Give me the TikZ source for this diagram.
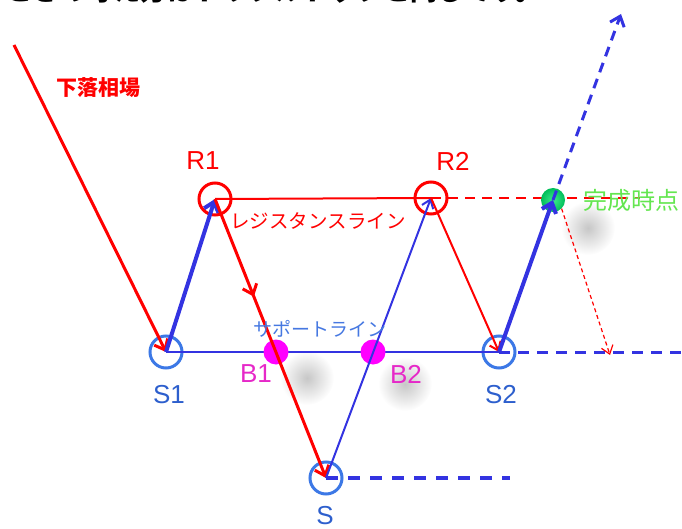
\documentclass[tikz,border=0pt]{standalone}
\usepackage{fontspec}
\setmainfont{Liberation Sans}
\newfontfamily\jp{Noto Sans CJK JP}
\usetikzlibrary{arrows.meta,decorations.markings}
\definecolor{lblue}{RGB}{51,51,225}
\definecolor{cblue}{RGB}{60,120,230}
\definecolor{tblue}{RGB}{45,95,205}
\definecolor{sblue}{RGB}{70,120,225}
\definecolor{pred}{RGB}{255,0,0}
\definecolor{pmag}{RGB}{255,0,255}
\definecolor{tmag}{RGB}{230,40,200}
\definecolor{tgreen}{RGB}{100,230,80}
\definecolor{dgreen}{RGB}{0,190,90}
\definecolor{lgreen}{RGB}{60,235,140}
\tikzset{
  barb/.style={-{Straight Barb[length=9pt,width=15pt]}},
  sbarb/.style={-{Straight Barb[length=8pt,width=12pt]}},
  rcirc/.style={circle,draw=pred,line width=3pt,minimum size=32pt,inner sep=0pt},
  bcirc/.style={circle,draw=cblue,line width=3pt,minimum size=32pt,inner sep=0pt},
  bdot/.style={circle,fill=pmag,minimum size=25pt,inner sep=0pt},
  lab/.style={inner sep=0pt,font=\fontsize{26}{28}\selectfont},
  shadowblob/.style={inner color=black!22,outer color=white},
}
\begin{document}
\begin{tikzpicture}[x=1pt,y=-1pt]
\useasboundingbox (0,0) rectangle (682,529);
\clip (0,0) rectangle (682,529);
% clipped caption line at the top
\node[anchor=base west,inner sep=0pt,font=\jp\bfseries\fontsize{27}{30}\selectfont] (cap) at (5,0.5) {ときの考え方はトリプルトップと同じです。};
% soft shadows
\shade[shadowblob] (307,378) circle (27);
\shade[shadowblob] (405,384) circle (27);
\shade[shadowblob] (588,228) circle (27);
% points
\node[rcirc] (R1) at (215,199) {};
\node[rcirc] (R2) at (431,198) {};
\node[bcirc] (S1) at (166,352) {};
\node[bcirc] (S2) at (499,352) {};
\node[bcirc] (S) at (326,478) {};
\coordinate (top) at (14,45);
\coordinate (up) at (621,14);
\coordinate (rend) at (640,198);
\coordinate (send) at (682,352);
\coordinate (sdash) at (510,478);
\coordinate (dotend) at (610,355);
% support and resistance lines
\draw[lblue,line width=2pt] (S1.center) -- (S2.center);
\draw[lblue,line width=3pt,dash pattern=on 11pt off 8pt] (S2.center) -- (send);
\draw[pred,line width=2pt] (R1.center) -- (R2.center);
\draw[pred,line width=2.5pt,dash pattern=on 10pt off 7pt] (R2.center) -- (rend);
\draw[lblue,line width=3.5pt,dash pattern=on 12pt off 10pt] (S.center) -- (sdash);
% breakout dots
\node[bdot] (B1) at (276,352) {};
\node[bdot] (B2) at (373,352) {};
% price path
\draw[pred,line width=3pt,barb] (top) -- (S1.center);
\draw[lblue,line width=4pt,barb] (S1.center) -- (R1.center);
\draw[pred,line width=3pt,barb,
  postaction={decorate},
  decoration={markings,mark=at position 0.35 with {\arrow{Straight Barb[length=9pt,width=15pt]}}}]
  (R1.center) -- (S.center);
\draw[lblue,line width=2pt,sbarb] (S.center) -- (R2.center);
\draw[pred,line width=2pt,sbarb] (R2.center) -- (S2.center);
\node[circle,minimum size=24pt,inner sep=0pt,inner color=lgreen,outer color=dgreen] (G) at (553,200) {};
\draw[lblue,line width=4pt,barb] (S2.center) -- (G.center);
\draw[lblue,line width=3pt,dash pattern=on 10pt off 7pt,barb] (G.center) -- (up);
\draw[pred,line width=1.2pt,dash pattern=on 4pt off 3pt,sbarb] (G.south east) -- (dotend);
% labels
\node[lab,text=pred] (R1l) at (203,161) {R1};
\node[lab,text=pred] (R2l) at (453,161) {R2};
\node[lab,text=tblue] (S1l) at (169,395) {S1};
\node[lab,text=tblue] (S2l) at (501,395) {S2};
\node[lab,text=tblue] (Sl) at (325,516) {S};
\node[lab,text=tmag] (B1l) at (256,374) {B1};
\node[lab,text=tmag] (B2l) at (406,374) {B2};
\node[inner sep=0pt,text=pred,font=\jp\bfseries\fontsize{21}{24}\selectfont] (fall) at (98,88) {下落相場};
\node[inner sep=0pt,text=pred,font=\jp\fontsize{19.5}{22}\selectfont] (resl) at (318,221) {レジスタンスライン};
\node[inner sep=0pt,text=sblue,font=\jp\fontsize{19}{22}\selectfont] (supl) at (320,329) {サポートライン};
\node[inner sep=0pt,text=tgreen,font=\jp\fontsize{24}{26}\selectfont] (done) at (631,200) {完成時点};
\end{tikzpicture}
\end{document}
